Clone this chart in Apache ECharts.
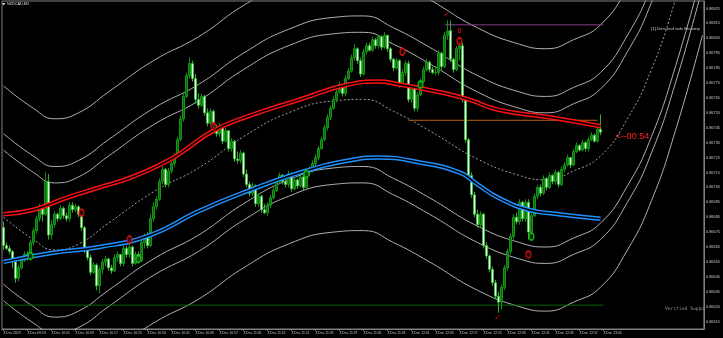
<!DOCTYPE html>
<html><head><meta charset="utf-8">
<script src="https://cdn.jsdelivr.net/npm/echarts@6/dist/echarts.min.js"></script>
<style>html,body{margin:0;padding:0;background:#000;}#c{width:723px;height:338px;}</style>
</head><body><div id="c"></div>
<script>
const symbolTitle = 'NZDCAD,M1';
const startHour = 9, startMin = 45, slotCount = 234;
const tickLabels = ['3 Dec 2019','3 Dec 09:53','3 Dec 10:01','3 Dec 10:09','3 Dec 10:17','3 Dec 10:25','3 Dec 10:33','3 Dec 10:41','3 Dec 10:49','3 Dec 10:57','3 Dec 11:05','3 Dec 11:13','3 Dec 11:21','3 Dec 11:29','3 Dec 11:37','3 Dec 11:45','3 Dec 11:53','3 Dec 12:01','3 Dec 12:09','3 Dec 12:17','3 Dec 12:25','3 Dec 12:33','3 Dec 12:41','3 Dec 12:49','3 Dec 12:57','3 Dec 13:05'];

const openP = [0.86678,0.86666,0.86664,0.86662,0.86655,0.86644,0.86651,0.86656,0.86660,0.86658,
0.86668,0.86676,0.86684,0.86692,0.86687,0.86709,0.86673,0.86680,0.86687,0.86684,
0.86691,0.86686,0.86684,0.86693,0.86690,0.86692,0.86687,0.86678,0.86663,0.86658,
0.86648,0.86653,0.86639,0.86650,0.86655,0.86657,0.86651,0.86649,0.86658,0.86660,
0.86654,0.86664,0.86660,0.86665,0.86654,0.86660,0.86656,0.86668,0.86672,0.86666,
0.86684,0.86692,0.86697,0.86709,0.86717,0.86707,0.86716,0.86721,0.86726,0.86737,
0.86751,0.86766,0.86780,0.86788,0.86778,0.86764,0.86760,0.86766,0.86755,0.86748,
0.86756,0.86743,0.86741,0.86746,0.86736,0.86743,0.86731,0.86736,0.86724,0.86723,
0.86728,0.86714,0.86707,0.86701,0.86706,0.86694,0.86699,0.86690,0.86688,0.86693,
0.86698,0.86703,0.86709,0.86713,0.86709,0.86707,0.86714,0.86704,0.86710,0.86706,
0.86712,0.86705,0.86715,0.86717,0.86721,0.86725,0.86731,0.86737,0.86745,0.86752,
0.86758,0.86764,0.86769,0.86774,0.86768,0.86778,0.86783,0.86792,0.86798,0.86790,
0.86781,0.86796,0.86800,0.86797,0.86804,0.86800,0.86806,0.86799,0.86807,0.86798,
0.86791,0.86785,0.86790,0.86774,0.86782,0.86788,0.86764,0.86772,0.86758,0.86767,
0.86776,0.86784,0.86789,0.86784,0.86782,0.86782,0.86795,0.86786,0.86807,0.86810,
0.86791,0.86784,0.86798,0.86800,0.86764,0.86737,0.86713,0.86700,0.86687,0.86680,
0.86687,0.86666,0.86659,0.86650,0.86641,0.86632,0.86628,0.86638,0.86651,0.86662,
0.86672,0.86685,0.86682,0.86695,0.86684,0.86695,0.86675,0.86686,0.86699,0.86705,
0.86701,0.86711,0.86705,0.86713,0.86709,0.86715,0.86707,0.86717,0.86720,0.86725,
0.86720,0.86729,0.86733,0.86730,0.86735,0.86731,0.86737,0.86740,0.86736,0.86744];
const closeP = [0.86666,0.86664,0.86662,0.86655,0.86644,0.86651,0.86656,0.86660,0.86658,0.86668,
0.86676,0.86684,0.86692,0.86687,0.86709,0.86673,0.86680,0.86687,0.86684,0.86691,
0.86686,0.86684,0.86693,0.86690,0.86692,0.86687,0.86678,0.86663,0.86658,0.86648,
0.86653,0.86639,0.86650,0.86655,0.86657,0.86651,0.86649,0.86658,0.86660,0.86654,
0.86664,0.86660,0.86665,0.86654,0.86660,0.86656,0.86668,0.86672,0.86666,0.86684,
0.86692,0.86697,0.86709,0.86717,0.86707,0.86716,0.86721,0.86726,0.86737,0.86751,
0.86766,0.86780,0.86788,0.86778,0.86764,0.86760,0.86766,0.86755,0.86748,0.86756,
0.86743,0.86741,0.86746,0.86736,0.86743,0.86731,0.86736,0.86724,0.86723,0.86728,
0.86714,0.86707,0.86701,0.86706,0.86694,0.86699,0.86690,0.86688,0.86693,0.86698,
0.86703,0.86709,0.86713,0.86709,0.86707,0.86714,0.86704,0.86710,0.86706,0.86712,
0.86705,0.86715,0.86717,0.86721,0.86725,0.86731,0.86737,0.86745,0.86752,0.86758,
0.86764,0.86769,0.86774,0.86768,0.86778,0.86783,0.86792,0.86798,0.86790,0.86781,
0.86796,0.86800,0.86797,0.86804,0.86800,0.86806,0.86799,0.86807,0.86798,0.86791,
0.86785,0.86790,0.86774,0.86782,0.86788,0.86764,0.86772,0.86758,0.86767,0.86776,
0.86784,0.86789,0.86784,0.86782,0.86782,0.86795,0.86786,0.86807,0.86810,0.86791,
0.86784,0.86798,0.86800,0.86764,0.86737,0.86713,0.86700,0.86687,0.86680,0.86687,
0.86666,0.86659,0.86650,0.86641,0.86632,0.86628,0.86638,0.86651,0.86662,0.86672,
0.86685,0.86682,0.86695,0.86684,0.86695,0.86675,0.86686,0.86699,0.86705,0.86701,
0.86711,0.86705,0.86713,0.86709,0.86715,0.86707,0.86717,0.86720,0.86725,0.86720,
0.86729,0.86733,0.86730,0.86735,0.86731,0.86737,0.86740,0.86736,0.86744,0.86742];
const highP = [0.86682,0.86668,0.86666,0.86663,0.86656,0.86653,0.86658,0.86662,0.86662,0.86670,
0.86678,0.86686,0.86694,0.86693,0.86715,0.86714,0.86683,0.86689,0.86688,0.86693,
0.86692,0.86688,0.86695,0.86695,0.86694,0.86693,0.86688,0.86679,0.86664,0.86660,
0.86655,0.86654,0.86652,0.86657,0.86659,0.86658,0.86653,0.86660,0.86662,0.86660,
0.86666,0.86666,0.86667,0.86666,0.86662,0.86662,0.86670,0.86674,0.86675,0.86687,
0.86695,0.86699,0.86711,0.86719,0.86718,0.86718,0.86723,0.86728,0.86739,0.86753,
0.86768,0.86782,0.86792,0.86790,0.86781,0.86768,0.86768,0.86767,0.86758,0.86758,
0.86757,0.86747,0.86748,0.86747,0.86745,0.86743,0.86738,0.86737,0.86729,0.86730,
0.86729,0.86717,0.86709,0.86708,0.86707,0.86701,0.86700,0.86694,0.86695,0.86700,
0.86705,0.86711,0.86715,0.86714,0.86711,0.86716,0.86715,0.86712,0.86711,0.86714,
0.86713,0.86717,0.86719,0.86723,0.86727,0.86733,0.86739,0.86747,0.86754,0.86760,
0.86766,0.86771,0.86776,0.86774,0.86780,0.86785,0.86794,0.86801,0.86799,0.86792,
0.86798,0.86802,0.86802,0.86806,0.86805,0.86807,0.86807,0.86809,0.86807,0.86799,
0.86792,0.86792,0.86791,0.86784,0.86790,0.86790,0.86774,0.86774,0.86769,0.86778,
0.86786,0.86791,0.86790,0.86786,0.86786,0.86797,0.86796,0.86809,0.86817,0.86817,
0.86792,0.86800,0.86803,0.86802,0.86765,0.86738,0.86715,0.86702,0.86690,0.86689,
0.86688,0.86668,0.86660,0.86652,0.86643,0.86635,0.86640,0.86653,0.86664,0.86674,
0.86687,0.86688,0.86697,0.86696,0.86697,0.86697,0.86688,0.86701,0.86707,0.86707,
0.86713,0.86712,0.86715,0.86714,0.86717,0.86716,0.86719,0.86722,0.86727,0.86725,
0.86731,0.86735,0.86734,0.86737,0.86736,0.86739,0.86742,0.86741,0.86746,0.86754];
const lowP = [0.86663,0.86663,0.86660,0.86651,0.86641,0.86642,0.86650,0.86655,0.86656,0.86656,
0.86666,0.86674,0.86682,0.86682,0.86686,0.86670,0.86670,0.86678,0.86682,0.86683,
0.86684,0.86682,0.86682,0.86688,0.86688,0.86685,0.86676,0.86661,0.86656,0.86646,
0.86647,0.86636,0.86634,0.86647,0.86652,0.86649,0.86647,0.86648,0.86655,0.86652,
0.86652,0.86658,0.86658,0.86652,0.86653,0.86654,0.86655,0.86664,0.86664,0.86665,
0.86682,0.86690,0.86696,0.86707,0.86705,0.86705,0.86714,0.86719,0.86725,0.86736,
0.86749,0.86765,0.86778,0.86776,0.86761,0.86758,0.86759,0.86753,0.86746,0.86747,
0.86741,0.86739,0.86739,0.86734,0.86735,0.86729,0.86729,0.86722,0.86721,0.86721,
0.86712,0.86705,0.86699,0.86699,0.86692,0.86692,0.86688,0.86687,0.86686,0.86691,
0.86697,0.86702,0.86707,0.86707,0.86705,0.86705,0.86702,0.86703,0.86704,0.86705,
0.86703,0.86704,0.86713,0.86715,0.86719,0.86723,0.86730,0.86736,0.86743,0.86750,
0.86757,0.86762,0.86768,0.86766,0.86766,0.86777,0.86782,0.86790,0.86788,0.86779,
0.86780,0.86794,0.86796,0.86796,0.86798,0.86798,0.86797,0.86798,0.86796,0.86789,
0.86783,0.86784,0.86772,0.86773,0.86780,0.86762,0.86762,0.86756,0.86756,0.86766,
0.86775,0.86783,0.86782,0.86781,0.86780,0.86780,0.86784,0.86785,0.86804,0.86789,
0.86782,0.86783,0.86790,0.86762,0.86735,0.86711,0.86698,0.86685,0.86678,0.86678,
0.86664,0.86657,0.86648,0.86639,0.86630,0.86621,0.86623,0.86636,0.86649,0.86660,
0.86670,0.86680,0.86680,0.86682,0.86682,0.86670,0.86674,0.86685,0.86697,0.86699,
0.86700,0.86703,0.86704,0.86707,0.86707,0.86705,0.86706,0.86715,0.86719,0.86718,
0.86719,0.86728,0.86729,0.86729,0.86729,0.86729,0.86736,0.86735,0.86735,0.86740];

const channelIdx = [0,10,17,25,35,50,65,80,95,110,120,130,142,158,172,181,190,199,208,216,224,233];
const channelMid = [0.86685,0.86670,0.86663,0.86667,0.86681,0.86702,0.86718,0.86739,0.86755,0.86763,0.86764,0.86756,0.86743,0.86724,0.86713,0.86710,0.86716,0.86726,0.86751,0.86784,0.86831,0.86895];
const channelOffsets = [0.00088,0.00056,0.00045,-0.00045,-0.00056,-0.00088];

const redIdx = [0,10,21,32,43,54,59,70,82,99,115,125,132,145,155,165,182,199];
const redMA = [0.86687,0.86690,0.86698,0.86705,0.86712,0.86722,0.86728,0.86743,0.86753,0.86764,0.86774,0.86776,0.86774,0.86769,0.86764,0.86757,0.86752,0.86746];
const blueIdx = [0,16,32,49,65,82,99,115,125,138,152,158,165,175,185,199];
const blueMA = [0.86655,0.86661,0.86665,0.86673,0.86689,0.86703,0.86715,0.86723,0.86725,0.86722,0.86715,0.86707,0.86698,0.86690,0.86687,0.86684];

const supportLevel = 0.86626, supportFrom = 0, supportTo = 200;
const purpleLevel = 0.86814, purpleFrom = 147, purpleTo = 200;
const orangeLevel = 0.86750, orangeFrom = 135, orangeTo = 198;

const redMarkIdx = [26,42,70,133,152,175];
const redMarkVal = [0.86688,0.86670,0.86746,0.86796,0.86803,0.86660];
const greenMarkIdx = [9,45,101,139,176];
const greenMarkVal = [0.86659,0.86657,0.86714,0.86774,0.86672];
const checkIdx = [148,165];
const checkVal = [0.86821,0.86618];
const arrowIdx = [152];
const arrowVal = [0.86810];

const currentPrice = 0.86742;
const countdownText = '<--00:54';
const supportText = 'Verified Support';
const infoText = '[1] Descend side Encompass';

const categories = [];
for (let i = 0; i < slotCount; i++) {
  const t = startHour * 60 + startMin + i;
  categories.push('3 Dec ' + String(Math.floor(t / 60)).padStart(2, '0') + ':' + String(t % 60).padStart(2, '0'));
}
const candleData = openP.map((o, i) => [o, closeP[i], lowP[i], highP[i]]);
const pair = (idx, val) => idx.map((x, k) => [x, val[k]]);
const tickFn = (i) => i % 8 === 0 && i <= 200;

const series = [];
channelOffsets.forEach(off => {
  series.push({type:'line', silent:true, smooth:0.5, showSymbol:false, z:1,
    data: channelIdx.map((x, k) => [x, +(channelMid[k] + off).toFixed(6)]),
    lineStyle:{color:'#b0b0b0', width:1}});
});
series.push({type:'line', silent:true, smooth:0.5, showSymbol:false, z:1,
  data: pair(channelIdx, channelMid), lineStyle:{color:'#a0a0a0', width:1, type:[2,2]}});
series.push({type:'line', silent:true, showSymbol:false, z:1, data:[[supportFrom, supportLevel],[supportTo, supportLevel]], lineStyle:{color:'#006a00', width:1}});
series.push({type:'line', silent:true, showSymbol:false, z:1, data:[[purpleFrom, purpleLevel],[purpleTo, purpleLevel]], lineStyle:{color:'#8a3f8a', width:1}});
series.push({type:'line', silent:true, showSymbol:false, z:1, data:[[orangeFrom, orangeLevel],[orangeTo, orangeLevel]], lineStyle:{color:'#b8600a', width:1}});
series.push({type:'candlestick', data: candleData, barWidth:2, z:2,
  itemStyle:{color:'#0b6a0b', color0:'#e2ffe2', borderColor:'#17a017', borderColor0:'#3cbc3c', borderWidth:0.9},
  markLine:{silent:true, symbol:'none', data:[{yAxis: currentPrice}], lineStyle:{color:'#555', width:1, type:'solid'},
    label:{show:true, position:'end', formatter: currentPrice.toFixed(5), backgroundColor:'#e6e6e6', color:'#000', fontSize:3.9, padding:[1,1,1,1], distance:1}}});
[[redIdx, redMA, '#ff1010'], [blueIdx, blueMA, '#1e90ff']].forEach(([idx, val, col]) => {
  series.push({type:'line', silent:true, smooth:0.5, showSymbol:false, z:3, data: pair(idx, val), lineStyle:{color:col, width:4.5}});
  series.push({type:'line', silent:true, smooth:0.5, showSymbol:false, z:3, data: pair(idx, val), lineStyle:{color:'#000', width:1.5}});
});
series.push({type:'scatter', silent:true, z:4, data: pair(redMarkIdx, redMarkVal), symbol:'circle', symbolSize:[5,7], itemStyle:{color:'#300000', borderColor:'#e01010', borderWidth:1.6}});
series.push({type:'scatter', silent:true, z:4, data: pair(greenMarkIdx, greenMarkVal), symbol:'circle', symbolSize:[5,7], itemStyle:{color:'#003000', borderColor:'#10d010', borderWidth:1.6}});
series.push({type:'scatter', silent:true, z:4, data: pair(checkIdx, checkVal), symbolSize:1, itemStyle:{color:'rgba(0,0,0,0)'},
  label:{show:true, position:'inside', formatter:'\u2713', color:'#e01010', fontSize:9}});
series.push({type:'scatter', silent:true, z:4, data: pair(arrowIdx, arrowVal), symbolSize:1, itemStyle:{color:'rgba(0,0,0,0)'},
  label:{show:true, position:'inside', formatter:'8', color:'#e01010', fontSize:7, fontWeight:'bold'}});

const chart = echarts.init(document.getElementById('c'));
const option = {
  backgroundColor:'#000', animation:false,
  grid:{left:2, top:1, width:704, height:328, show:true, borderColor:'#808080', borderWidth:1, backgroundColor:'#000'},
  xAxis:{type:'category', data:categories, boundaryGap:true,
    axisLine:{show:true, lineStyle:{color:'#808080'}},
    axisTick:{show:true, alignWithLabel:true, interval:tickFn, length:2, lineStyle:{color:'#808080'}},
    axisLabel:{show:true, interval:tickFn, formatter:(v, i) => tickLabels[i / 8], align:'left', margin:3, fontSize:3.4, color:'#c8c8c8', fontFamily:'Liberation Sans'},
    splitLine:{show:false}},
  yAxis:{type:'value', position:'right', min:0.8661, max:0.8683, interval:0.00005,
    axisLine:{show:true, lineStyle:{color:'#808080'}}, axisTick:{show:false},
    axisLabel:{formatter: v => (Math.round(v * 1e5) % 10 === 5 ? v.toFixed(5) : ''), fontSize:3.9, color:'#c8c8c8', margin:2, fontFamily:'Liberation Sans'},
    splitLine:{show:false}},
  series
};
chart.setOption(option);
const cd = chart.convertToPixel({xAxisIndex:0, yAxisIndex:0}, [204, currentPrice]);
const sp = chart.convertToPixel({xAxisIndex:0, yAxisIndex:0}, [221, supportLevel]);
chart.setOption({graphic:[
  {type:'polygon', shape:{points:[[2,3],[5.5,3],[3.75,5.5]]}, style:{fill:'#d0d0d0'}},
  {type:'text', left:7, top:2, style:{text:symbolTitle, fill:'#e0e0e0', fontSize:3.8, fontFamily:'Liberation Sans'}},
  {type:'text', x:cd[0], y:cd[1] + 4, style:{text:countdownText, fill:'#ff2020', fontSize:9, fontFamily:'Liberation Sans', verticalAlign:'middle'}},
  {type:'text', x:665, y:sp[1] + 1.5, style:{text:supportText, fill:'#9a9a9a', fontSize:4.65, fontFamily:'DejaVu Sans Mono', verticalAlign:'top', width:41, overflow:'truncate', ellipsis:''}},
  {type:'text', x:651, y:29, style:{text:infoText, fill:'#c8c8c8', fontSize:4.3, fontFamily:'Liberation Sans', verticalAlign:'middle', width:54.5, overflow:'truncate', ellipsis:''}}
]});
</script></body></html>
